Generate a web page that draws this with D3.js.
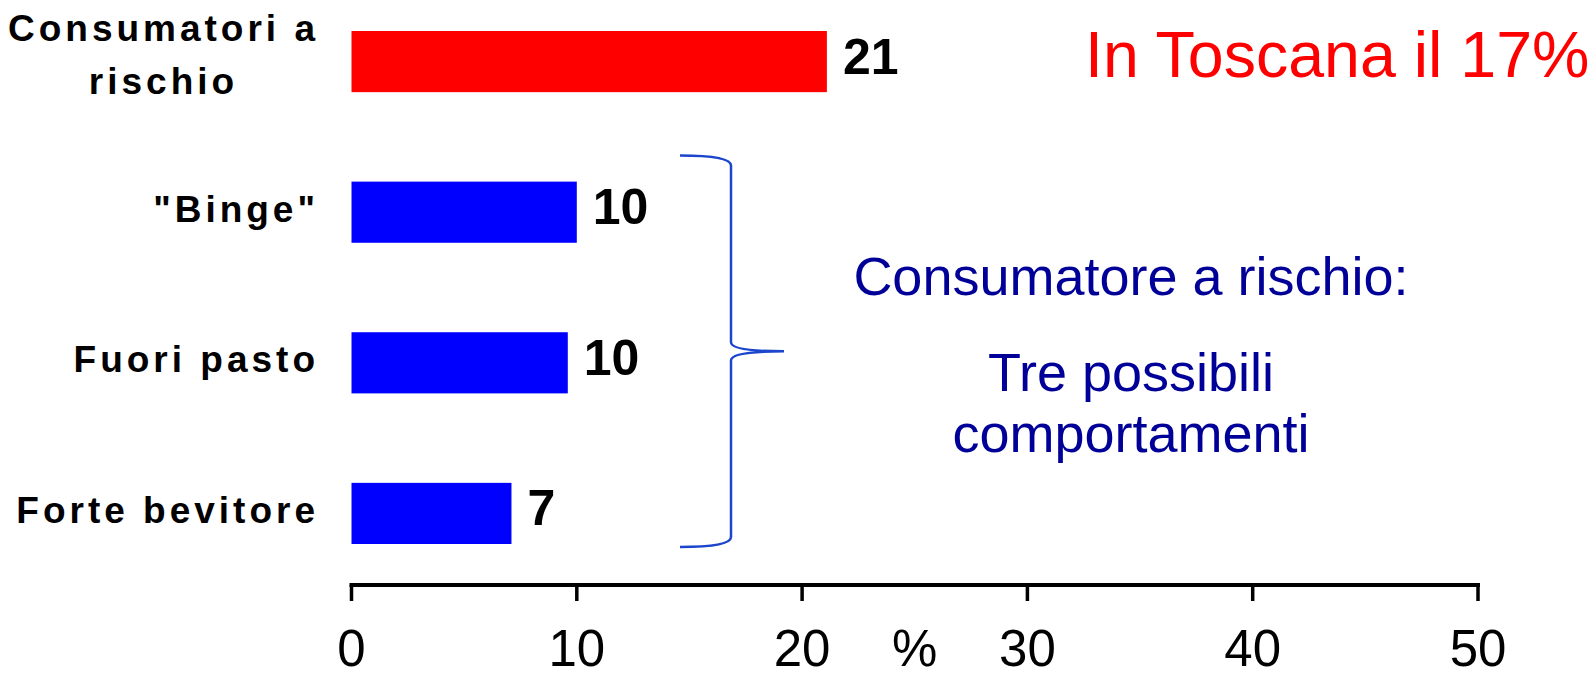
<!DOCTYPE html>
<html>
<head>
<meta charset="utf-8">
<script src="https://cdn.jsdelivr.net/npm/d3@7"></script>
<style>
  html, body { margin: 0; padding: 0; background: #ffffff; }
  svg { display: block; font-family: "Liberation Sans", Arial, Helvetica, sans-serif; }
</style>
</head>
<body>
<svg id="chart" width="1596" height="678"></svg>
<script>
// ---- data ----
const categories = ["Consumatori a\nrischio", "\"Binge\"", "Fuori pasto", "Forte bevitore"];
const values = [21.1, 10.0, 9.6, 7.1];
const xTicks = [0, 10, 20, 30, 40, 50];
const axisUnit = "%";
const headline = "In Toscana il 17%";
const noteTitle = "Consumatore a rischio:";
const noteLines = ["Tre possibili", "comportamenti"];
const bracedCategories = ["\"Binge\"", "Forte bevitore"];

// ---- layout ----
const svg = d3.select("#chart");

const x = d3.scaleLinear().domain([0, 50]).range([351.5, 1478]);
const y = d3.scaleBand().domain(categories).range([31, 544]).paddingInner(0.594).paddingOuter(0);

const RED = "#ff0000", BLUE = "#0000ff", NAVY = "#000099", BRACE = "#1a45cc";

// bars
svg.append("g").selectAll("rect")
  .data(values)
  .join("rect")
  .attr("x", x(0))
  .attr("y", (d, i) => y(categories[i]))
  .attr("width", d => x(d) - x(0))
  .attr("height", y.bandwidth())
  .attr("fill", (d, i) => i === 0 ? RED : BLUE);

// value labels
const fmt = d3.format(".0f");
svg.append("g").selectAll("text")
  .data(values)
  .join("text")
  .attr("x", d => x(d) + 16)
  .attr("y", (d, i) => y(categories[i]) + y.bandwidth() / 2 + 12)
  .attr("font-size", 50)
  .attr("font-weight", "bold")
  .attr("fill", "#000")
  .text(d => fmt(d));

// category labels (right aligned, wrapped lines centred on each other)
const labelRight = 319;
const catG = svg.append("g");
categories.forEach(c => {
  const lines = c.split("\n");
  const cy = y(c) + y.bandwidth() / 2;
  const lineH = 53;
  const t = catG.append("text")
    .attr("font-size", 37)
    .attr("font-weight", "bold")
    .attr("letter-spacing", "4px")
    .attr("fill", "#000");
  if (lines.length === 1) {
    t.attr("x", labelRight).attr("y", cy + 9.5).attr("text-anchor", "end").text(lines[0]);
  } else {
    const spans = lines.map(l => t.append("tspan").text(l));
    const widths = spans.map(s => s.node().getComputedTextLength());
    const maxW = d3.max(widths);
    const centre = labelRight - maxW / 2;
    const firstBase = cy - (lines.length - 1) * lineH / 2 + 6;
    spans.forEach((s, k) => {
      s.attr("x", centre).attr("y", firstBase + k * lineH).attr("text-anchor", "middle");
    });
  }
});

// x axis
const axisY = 585;
const axisG = svg.append("g").attr("transform", `translate(0,${axisY})`);
axisG.append("line")
  .attr("x1", x(0) - 2).attr("x2", x(50) + 2)
  .attr("y1", 0).attr("y2", 0)
  .attr("stroke", "#000").attr("stroke-width", 4);
axisG.selectAll("line.tick")
  .data(xTicks)
  .join("line")
  .attr("class", "tick")
  .attr("x1", d => x(d)).attr("x2", d => x(d))
  .attr("y1", 0).attr("y2", 16)
  .attr("stroke", "#000").attr("stroke-width", 3.5);
axisG.selectAll("text.tl")
  .data(xTicks)
  .join("text")
  .attr("class", "tl")
  .attr("x", d => x(d))
  .attr("y", 81)
  .attr("text-anchor", "middle")
  .attr("font-size", 51)
  .attr("fill", "#000")
  .text(d => d);
axisG.append("text")
  .attr("x", x(25))
  .attr("y", 81)
  .attr("text-anchor", "middle")
  .attr("font-size", 51)
  .attr("fill", "#000")
  .text(axisUnit);

// headline
svg.append("text")
  .attr("x", 1085).attr("y", 77)
  .attr("font-size", 64.5)
  .attr("fill", RED)
  .text(headline);

// brace
const yTop = y(bracedCategories[0]) - 26;
const yBot = y(bracedCategories[1]) + y.bandwidth() + 3;
const yMid = (yTop + yBot) / 2;
const xArm = 680, xV = 731, xTip = 784;
const p = d3.path();
p.moveTo(xArm, yTop);
p.quadraticCurveTo(xV, yTop, xV, yTop + 10);
p.lineTo(xV, yMid - 9);
p.quadraticCurveTo(xV, yMid, xTip, yMid);
p.quadraticCurveTo(xV, yMid, xV, yMid + 9);
p.lineTo(xV, yBot - 10);
p.quadraticCurveTo(xV, yBot, xArm, yBot);
svg.append("path")
  .attr("d", p.toString())
  .attr("fill", "none")
  .attr("stroke", BRACE)
  .attr("stroke-width", 2.5);

// note
const noteX = 1131;
svg.append("text")
  .attr("x", noteX).attr("y", 295)
  .attr("text-anchor", "middle")
  .attr("font-size", 54)
  .attr("fill", NAVY)
  .text(noteTitle);
svg.append("g").selectAll("text")
  .data(noteLines)
  .join("text")
  .attr("x", noteX)
  .attr("y", (d, i) => 391 + i * 61)
  .attr("text-anchor", "middle")
  .attr("font-size", 54)
  .attr("fill", NAVY)
  .text(d => d);
</script>
</body>
</html>
